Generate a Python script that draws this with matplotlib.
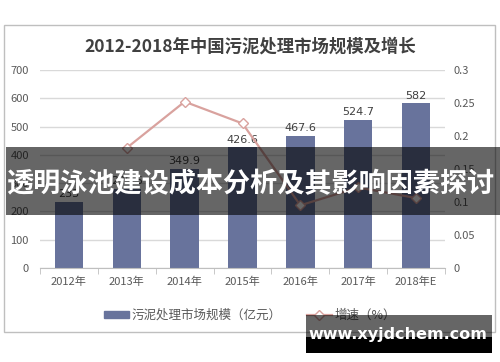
import numpy as np
import matplotlib.pyplot as plt
from matplotlib.patches import Rectangle
from matplotlib.lines import Line2D

plt.rcParams["font.family"] = ["Noto Sans CJK SC", "DejaVu Sans"]

years = ["2012年", "2013年", "2014年", "2015年", "2016年", "2017年", "2018年E"]
market_size = [233.0, 279.5, 349.9, 426.6, 467.6, 524.7, 582.0]
size_labels = ["233", "279.5", "349.9", "426.6", "467.6", "524.7", "582"]
growth = [np.nan, 0.182, 0.252, 0.219, 0.095, 0.122, 0.106]
left_ticks = [0, 100, 200, 300, 400, 500, 600, 700]
right_ticks = [0, 0.05, 0.1, 0.15, 0.2, 0.25, 0.3]
right_tick_labels = ["0", "0.05", "0.1", "0.15", "0.2", "0.25", "0.3"]

bar_color = "#68739c"
line_color = "#d9a29e"
text_color = "#595959"
grid_color = "#d9d9d9"

fig = plt.figure(figsize=(5.0, 3.62), dpi=100)
fig.patch.set_facecolor("white")

# outer chart frame
fig.patches.append(Rectangle((4 / 500, 1 - 332 / 362), 491 / 500, 307 / 362,
                             transform=fig.transFigure, facecolor="none",
                             edgecolor="#bfbfbf", linewidth=1.0, zorder=0))

ax = fig.add_axes([40 / 500, 1 - 268 / 362, 405 / 500, 198 / 362])
x = np.arange(len(years))

ax.bar(x, market_size, width=0.49, color=bar_color, zorder=2)
for xi, val, lab in zip(x, market_size, size_labels):
    ax.text(xi, val + 10, lab, ha="center", va="bottom", fontsize=8,
            color="#404040", family=["DejaVu Sans"])

ax.set_xlim(-0.5, len(years) - 0.5)
ax.set_ylim(0, 700)
ax.set_yticks(left_ticks)
ax.yaxis.grid(True, color=grid_color, linewidth=1.0, zorder=0)
ax.set_axisbelow(True)
for side in ["top", "right", "left"]:
    ax.spines[side].set_visible(False)
ax.spines["bottom"].set_color("#bfbfbf")
ax.tick_params(axis="y", length=0, pad=8, labelsize=8, labelcolor=text_color)
ax.set_xticks(x)
ax.set_xticklabels(years, fontsize=8, color=text_color)
ax.tick_params(axis="x", length=0, pad=6)
ax.set_xticks(np.arange(-0.5, len(years)), minor=True)
ax.tick_params(axis="x", which="minor", length=4, color="#bfbfbf")

ax2 = ax.twinx()
ax2.plot(x, growth, color=line_color, linewidth=1.6, marker="D",
         markersize=5, markerfacecolor="white", markeredgecolor=line_color,
         markeredgewidth=1.0, zorder=3)
ax2.set_ylim(0, 0.3)
ax2.set_yticks(right_ticks)
ax2.set_yticklabels(right_tick_labels)
for side in ["top", "right", "left", "bottom"]:
    ax2.spines[side].set_visible(False)
ax2.tick_params(axis="y", length=0, pad=6, labelsize=8, labelcolor=text_color)

fig.text(0.5, 1 - 47 / 362, "2012-2018年中国污泥处理市场规模及增长",
         ha="center", va="center", fontsize=12.5, fontweight="bold",
         color="#404040")

handles = [
    Rectangle((0, 0), 1, 1, color=bar_color),
    Line2D([0], [0], color=line_color, linewidth=1.6, marker="D",
           markersize=5, markerfacecolor="white", markeredgecolor=line_color),
]
fig.legend(handles, ["污泥处理市场规模（亿元）", "增速（%）"],
           loc="center", bbox_to_anchor=(0.5, 1 - 315 / 362), ncol=2,
           frameon=False, fontsize=9, labelcolor=text_color,
           handlelength=2.0, handleheight=0.5, columnspacing=2.0,
           handletextpad=0.2)

# overlay banner
fig.patches.append(Rectangle((6 / 500, 1 - 215 / 362), 494 / 500, 68 / 362,
                             transform=fig.transFigure, facecolor="black",
                             alpha=0.6, edgecolor="none", zorder=10))
fig.text(250 / 500, 1 - 184 / 362, "透明泳池建设成本分析及其影响因素探讨",
         ha="center", va="center", fontsize=19.5, fontweight="bold",
         color="white", zorder=11)

# watermark box
fig.patches.append(Rectangle((306 / 500, 1 - 337 / 362), 186 / 500, 22 / 362,
                             transform=fig.transFigure, facecolor="black",
                             alpha=0.6, edgecolor="none", zorder=10))
fig.patches.append(Rectangle((306 / 500, 1 - 353 / 362), 186 / 500, 16 / 362,
                             transform=fig.transFigure, facecolor="black",
                             edgecolor="none", zorder=10))
fig.text(398 / 500, 1 - 335 / 362, "www.xyjdchem.com", ha="center",
         va="center", fontsize=11.5, fontweight="bold", color="white",
         family=["DejaVu Sans"], zorder=11)

fig.savefig("out.png", dpi=100)
